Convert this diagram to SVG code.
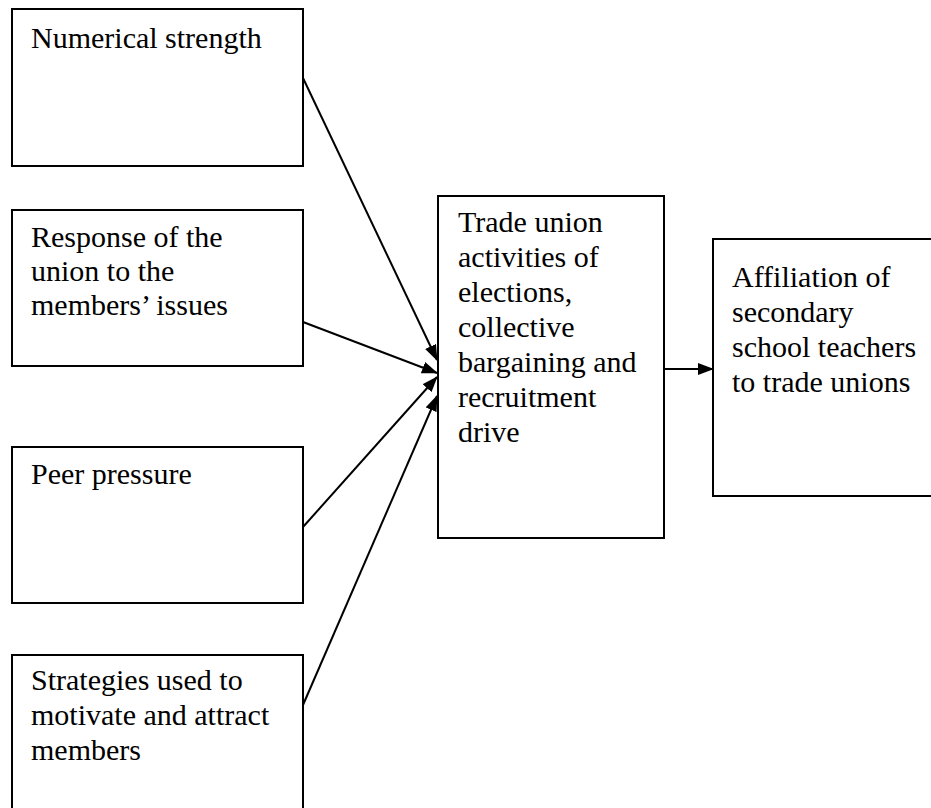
<svg xmlns="http://www.w3.org/2000/svg" width="931" height="808" viewBox="0 0 931 808">
<style>
.box{fill:#fff;stroke:#000;stroke-width:2}
.t{font-family:'Liberation Serif','Times New Roman','DejaVu Serif',serif;font-size:30px;fill:#000}
.c{stroke:#000;stroke-width:2;fill:none;marker-end:url(#ah)}
</style>
<defs>
<marker id="ah" markerUnits="userSpaceOnUse" markerWidth="16" markerHeight="12" refX="15" refY="6" orient="auto">
<path d="M0,0 L16,6 L0,12 z" fill="#000"/>
</marker>
</defs>
<rect width="931" height="808" fill="#fff"/>
<g id="n1"><rect class="box" x="12" y="9" width="291" height="157"/><text class="t" font-family="Liberation Serif, serif" x="31" y="48">Numerical strength</text></g>
<g id="n2"><rect class="box" x="12" y="210" width="291" height="156"/><text class="t" x="31" y="247">Response of the</text><text class="t" x="31" y="281">union to the</text><text class="t" x="31" y="315">members’ issues</text></g>
<g id="n3"><rect class="box" x="12" y="447" width="291" height="156"/><text class="t" x="31" y="484">Peer pressure</text></g>
<g id="n4"><rect class="box" x="12" y="655" width="291" height="170"/><text class="t" x="31" y="690">Strategies used to</text><text class="t" x="31" y="725">motivate and attract</text><text class="t" x="31" y="760">members</text></g>
<g id="n5"><rect class="box" x="438" y="196" width="226" height="342"/><text class="t" x="458" y="232">Trade union</text><text class="t" x="458" y="267">activities of</text><text class="t" x="458" y="302">elections,</text><text class="t" x="458" y="337">collective</text><text class="t" x="458" y="372">bargaining and</text><text class="t" x="458" y="407">recruitment</text><text class="t" x="458" y="442">drive</text></g>
<g id="n6"><rect class="box" x="713" y="239" width="240" height="257"/><text class="t" x="732" y="287">Affiliation of</text><text class="t" x="732" y="322">secondary</text><text class="t" x="732" y="357">school teachers</text><text class="t" x="732" y="392">to trade unions</text></g>
<g id="connectors">
<line class="c" x1="303" y1="78" x2="437" y2="360"/>
<line class="c" x1="303" y1="322" x2="437" y2="373"/>
<line class="c" x1="303" y1="527" x2="437" y2="377"/>
<line class="c" x1="303" y1="705" x2="437" y2="396"/>
<line class="c" x1="664" y1="369" x2="713" y2="369"/>
</g>
</svg>
